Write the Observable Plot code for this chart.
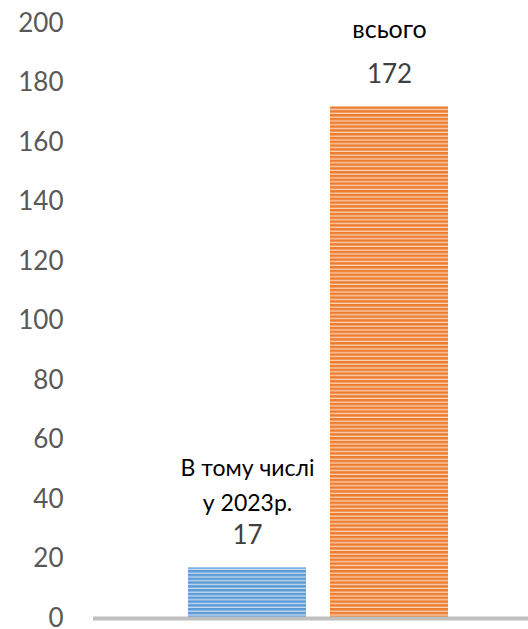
<!DOCTYPE html>
<html>
<head>
<meta charset="utf-8">
<script src="https://cdn.jsdelivr.net/npm/d3@7"></script>
<script src="https://cdn.jsdelivr.net/npm/@observablehq/plot@0.6"></script>
<style>
  html, body { margin: 0; padding: 0; background: #fff; }
  #chart svg { display: block; }
</style>
</head>
<body>
<div id="chart"></div>
<script>
const categories = ["В тому числі\nу 2023р.", "всього"];
const values = [17, 172];
const yTicks = [0, 20, 40, 60, 80, 100, 120, 140, 160, 180, 200];

const data = categories.map((c, i) => ({category: c, value: values[i]}));

const font = "Lato, 'Open Sans', sans-serif";

const plot = Plot.plot({
  width: 528,
  height: 629,
  marginTop: 23,
  marginBottom: 11,
  marginLeft: 93,
  marginRight: 0,
  style: {fontFamily: font, background: "#fff"},
  x: {domain: categories, paddingInner: 0.172, paddingOuter: 0.612, align: 0.544, axis: null},
  y: {domain: [0, 200], ticks: yTicks, label: null},
  color: {type: "ordinal", domain: categories, range: ["url(#stripeBlue)", "url(#stripeOrange)"]},
  marks: [
    Plot.axisY({ticks: yTicks, tickSize: 0, tickPadding: 30, label: null, fontSize: 26, fill: "#595959", tickFormat: d => String(d)}),
    Plot.barY(data, {x: "category", y: "value", fill: "category"}),
    Plot.ruleY([0], {stroke: "#bfbfbf", strokeWidth: 4}),
    Plot.text(data, {x: "category", y: "value", text: d => String(d.value), dy: -32, fontSize: 26, fill: "#404040", lineAnchor: "middle"}),
    Plot.text(data.filter((d, i) => i === 0), {x: "category", y: "value", text: "category", dy: -57, fontSize: 23, fill: "#000", lineAnchor: "bottom", lineHeight: 1.5}),
    Plot.text(data.filter((d, i) => i === 1), {x: "category", y: "value", text: "category", dy: -69, fontSize: 25, fill: "#000", lineAnchor: "bottom"})
  ]
});

const svg = d3.select(plot);
const defs = svg.insert("defs", ":first-child");
function stripe(id, light, dark) {
  const p = defs.append("pattern")
    .attr("id", id)
    .attr("patternUnits", "userSpaceOnUse")
    .attr("width", 8)
    .attr("height", 3.8);
  p.append("rect").attr("width", 8).attr("height", 3.8).attr("fill", light);
  p.append("rect").attr("width", 8).attr("height", 2.5).attr("fill", dark);
}
stripe("stripeBlue", "#c9dbf1", "#5b9bd5");
stripe("stripeOrange", "#fad3b8", "#ed7d31");

document.getElementById("chart").appendChild(plot);
</script>
</body>
</html>
